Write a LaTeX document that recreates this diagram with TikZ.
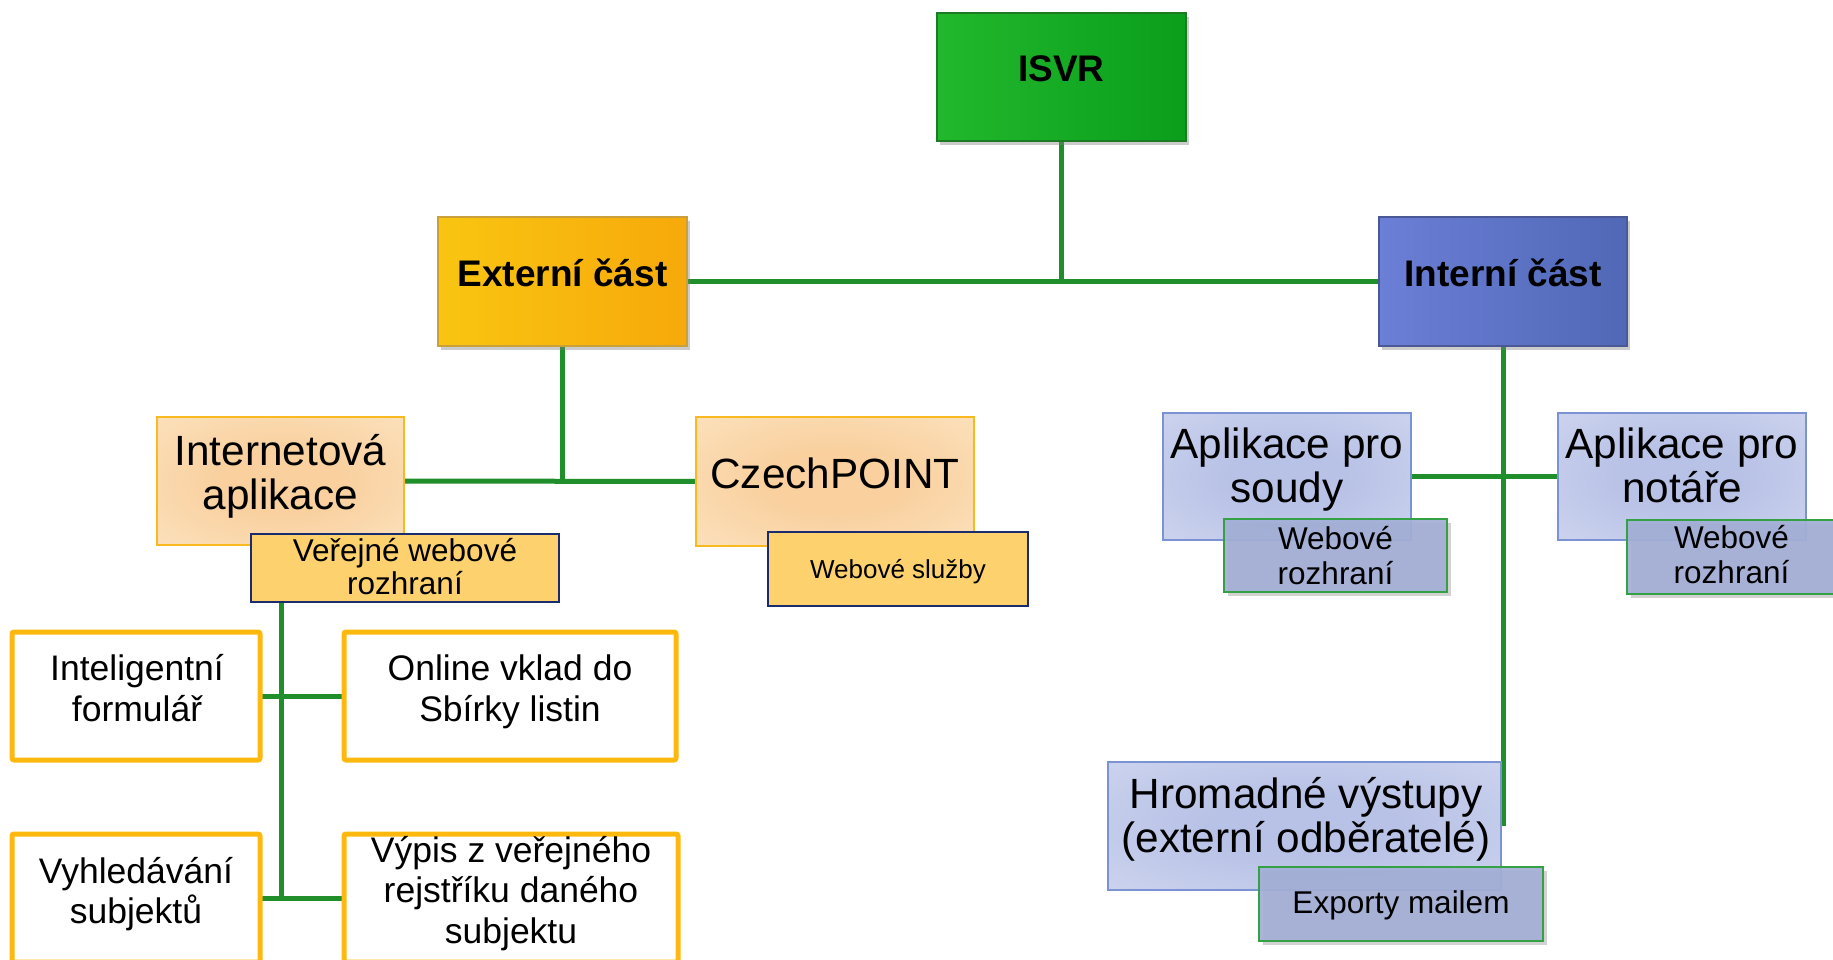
\documentclass[tikz,border=0pt]{standalone}
\usepackage{fontspec}
\setmainfont{Liberation Sans}
\usetikzlibrary{shadows}
\definecolor{conn}{RGB}{31,142,43}
\definecolor{isvrL}{RGB}{34,184,44}
\definecolor{isvrR}{RGB}{10,158,28}
\definecolor{isvrB}{RGB}{27,122,34}
\definecolor{extL}{RGB}{249,197,17}
\definecolor{extR}{RGB}{247,169,11}
\definecolor{extB}{RGB}{201,160,58}
\definecolor{intL}{RGB}{107,127,214}
\definecolor{intR}{RGB}{80,104,182}
\definecolor{intB}{RGB}{74,88,150}
\definecolor{oIn}{RGB}{249,208,158}
\definecolor{oOut}{RGB}{254,238,212}
\definecolor{oBorder}{RGB}{248,186,32}
\definecolor{oSub}{RGB}{253,210,110}
\definecolor{navy}{RGB}{26,44,110}
\definecolor{bIn}{RGB}{184,194,230}
\definecolor{bOut}{RGB}{220,225,245}
\definecolor{bBorder}{RGB}{124,147,211}
\definecolor{bSub}{RGB}{163,175,214}
\definecolor{gBorder}{RGB}{52,162,68}
\definecolor{yBorder}{RGB}{255,185,14}
\pgfdeclareradialshading{softorange}{\pgfpoint{0bp}{0bp}}{color(0bp)=(oIn); color(12bp)=(oIn); color(55bp)=(oOut); color(100bp)=(oOut)}
\pgfdeclareradialshading{softblue}{\pgfpoint{0bp}{0bp}}{color(0bp)=(bIn); color(12bp)=(bIn); color(55bp)=(bOut); color(100bp)=(bOut)}
\pgfdeclarelayer{bg}
\pgfsetlayers{bg,main}
\tikzset{
  base/.style={inner sep=0pt, outer sep=0pt, rectangle},
  hdr/.style={base, line width=1.2pt, drop shadow={opacity=0.4, shadow xshift=3pt, shadow yshift=-4pt}},
  isvrbox/.style={hdr, draw=isvrB, left color=isvrL, right color=isvrR},
  extbox/.style={hdr, draw=extB, left color=extL, right color=extR},
  intbox/.style={hdr, draw=intB, left color=intL, right color=intR},
  hdrtxt/.style={base, anchor=base, font=\fontsize{37}{42}\selectfont\bfseries},
  obox/.style={base, draw=oBorder, line width=1.8pt, shading=softorange},
  osub/.style={base, draw=navy, line width=2pt, fill=oSub},
  bbox/.style={base, draw=bBorder, line width=1.8pt, shading=softblue},
  bsub/.style={base, draw=gBorder, line width=2pt, fill=bSub, fill opacity=0.93,
    drop shadow={opacity=0.35, shadow xshift=4pt, shadow yshift=-4pt}},
  wbox/.style={base, draw=yBorder, line width=5pt, fill=white, rounded corners=2pt},
  bigtxt/.style={base, align=center, font=\fontsize{42.3}{44}\selectfont},
  midtxt/.style={base, align=center, font=\fontsize{35.5}{40.5}\selectfont},
  subtxt/.style={base, align=center, font=\fontsize{31.5}{33}\selectfont},
  webtxt/.style={base, align=center, font=\fontsize{31.5}{35}\selectfont},
  link/.style={draw=conn, line width=5pt},
}
\begin{document}
\begin{tikzpicture}[x=1pt,y=-1pt]
\useasboundingbox (0,0) rectangle (1833,960);
\begin{pgfonlayer}{bg}
  \fill[white] (0,0) rectangle (1833,960);
\end{pgfonlayer}

% header boxes
\node[isvrbox, minimum width=249pt, minimum height=128pt] (isvr) at (1061.5,77) {};
\node[hdrtxt] (isvrt) at (1061.5,82) {ISVR};
\node[extbox, minimum width=249pt, minimum height=129pt] (ext) at (562.5,281.5) {};
\node[hdrtxt] (extt) at (562.5,286) {Externí část};
\node[intbox, minimum width=248pt, minimum height=129pt] (int) at (1503,281.5) {};
\node[hdrtxt] (intt) at (1503,286) {Interní část};

% external side
\node[obox, minimum width=247pt, minimum height=128pt] (inet) at (280.5,481) {};
\node[bigtxt] (inett) at (280.5,476) {Internetová\\aplikace};
\node[osub, minimum width=308pt, minimum height=68pt] (verejne) at (405,568) {};
\node[subtxt] (verejnet) at (405,567) {Veřejné webové\\rozhraní};

\node[obox, minimum width=278pt, minimum height=129pt] (czech) at (835,481.5) {};
\node[bigtxt, anchor=base] (czecht) at (835,488) {CzechPOINT};
\node[osub, minimum width=260pt, minimum height=74pt] (sluzby) at (898,569) {};
\node[base, anchor=base, font=\fontsize{26}{30}\selectfont] (sluzbyt) at (898,578) {Webové služby};

\node[wbox, minimum width=248pt, minimum height=128pt] (intel) at (136,696) {};
\node[midtxt] (intelt) at (137,688) {Inteligentní\\formulář};
\node[wbox, minimum width=332pt, minimum height=128pt] (online) at (510,696) {};
\node[midtxt] (onlinet) at (510,692) {Online vklad do\\Sbírky listin};
\node[wbox, minimum width=248pt, minimum height=128pt] (vyhl) at (136,898) {};
\node[midtxt] (vyhlt) at (136,894) {Vyhledávání\\subjektů};
\node[wbox, minimum width=334pt, minimum height=128pt] (vypis) at (511,898) {};
\node[midtxt] (vypist) at (511,893.5) {Výpis z veřejného\\rejstříku daného\\subjektu};

% internal side
\node[bbox, minimum width=248pt, minimum height=127pt] (soudy) at (1287,476.5) {};
\node[bigtxt] (soudyt) at (1287,470) {Aplikace pro\\soudy};
\node[bsub, minimum width=223pt, minimum height=73pt] (soudyweb) at (1335.5,555.5) {};
\node[webtxt] (soudywebt) at (1335.5,556) {Webové\\rozhraní};

\node[bbox, minimum width=248pt, minimum height=127pt] (notare) at (1682,476.5) {};
\node[bigtxt] (notaret) at (1682,465.5) {Aplikace pro\\notáře};
\node[bsub, minimum width=209pt, minimum height=74pt] (notareweb) at (1731.5,556.5) {};
\node[webtxt] (notarewebt) at (1731.5,555) {Webové\\rozhraní};

\node[bbox, minimum width=393pt, minimum height=128pt] (hrom) at (1304.5,826) {};
\node[bigtxt] (hromt) at (1306,819.5) {Hromadné výstupy\\(externí odběratelé)};
\node[bsub, minimum width=284pt, minimum height=74pt] (export) at (1401,904) {};
\node[base, anchor=base, font=\fontsize{31.5}{35}\selectfont] (exportt) at (1401,913) {Exporty mailem};

% connectors
\coordinate (lt) at ([xshift=30pt]verejne.south west);
\begin{pgfonlayer}{bg}
  \draw[link] (ext) -- (int);
  \draw[link] (isvr) -- (isvr |- ext);
  \draw[link] (ext) -- (ext |- inet);
  \draw[link] (inet) -- (czech);
  \draw[link] (lt) -- (lt |- vypis.west);
  \draw[link] (intel) -- (online);
  \draw[link] (vyhl) -- (vypis);
  \draw[link] (int) -- (int |- hrom.east);
  \draw[link] (soudy) -- (notare);
\end{pgfonlayer}
\end{tikzpicture}
\end{document}
